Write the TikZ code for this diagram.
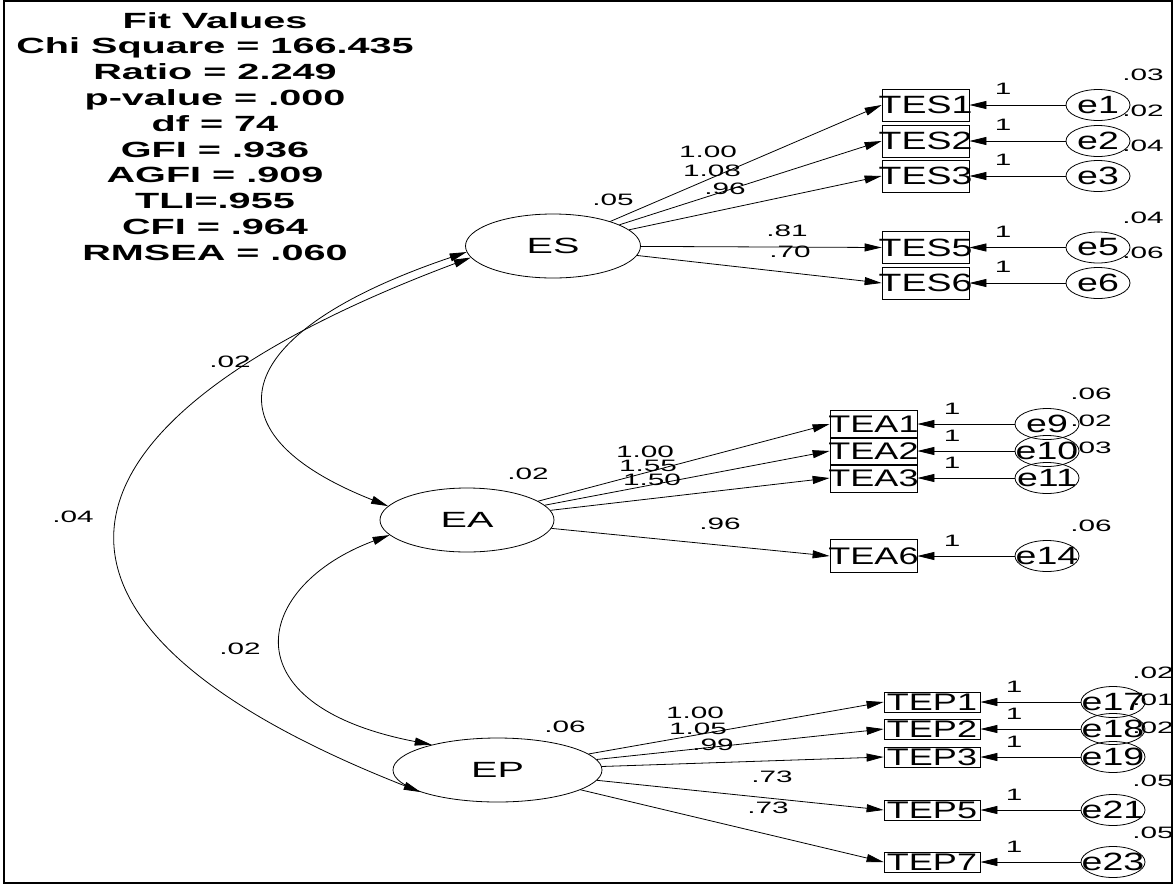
\documentclass[tikz,border=0pt]{standalone}
\usepackage{fontspec}
\newfontfamily\amos[FakeStretch=1.8]{Liberation Sans}
\newfontfamily\amosbox[FakeStretch=1.5]{Liberation Sans}
\usetikzlibrary{arrows.meta, shapes.geometric}
\newcommand{\boxtext}[1]{\makebox[0pt]{#1}}

\begin{document}
\begin{tikzpicture}[x=1pt, y=-1pt, line width=0.8pt,
  amostip/.tip={Triangle[length=17pt, width=8pt]},
  latent/.style={ellipse, draw, inner sep=0pt, minimum height=64pt, font=\amos\fontsize{22}{22}\selectfont},
  ind/.style={rectangle, draw, inner sep=0pt, font=\amosbox\fontsize{24}{24}\selectfont},
  err/.style={ellipse, draw, inner sep=0pt, minimum width=64pt, minimum height=31pt, font=\amosbox\fontsize{25}{25}\selectfont},
  num/.style={inner sep=0pt, font=\amos\fontsize{16.5}{16.5}\selectfont},
  fit/.style={anchor=base, inner sep=0pt, font=\amos\bfseries\fontsize{22}{22}\selectfont},
  load/.style={-amostip},
  cov/.style={amostip-amostip},
]
\useasboundingbox (0,0) rectangle (1176,884);
\draw[line width=2.5pt] (4,1) rectangle (1172,883);
% ---------- fit values ----------
\foreach \t [count=\i] in {Fit Values, Chi Square = 166.435, Ratio = 2.249, p-value = .000, df = 74, GFI = .936, AGFI = .909, TLI=.955, CFI = .964, RMSEA = .060}
  \node[fit] (fit\i) at (215, {28+25.8*(\i-1)}) {\t};
% ---------- latent factors ----------
\node[latent, minimum width=175pt] (ES) at (553,246) {ES};
\node[latent, minimum width=174pt] (EA) at (467,520) {EA};
\node[latent, minimum width=209pt] (EP) at (497.5,770) {EP};
\node[num] (vES) at (613,200) {.05};
\node[num] (vEA) at (528,474) {.02};
\node[num] (vEP) at (565,727) {.06};
% ---------- ES indicators ----------
\foreach \v/\y/\w in {1/105/.03, 2/141/.02, 3/176/.04, 5/247.5/.04, 6/283/.06} {
  \node[ind, minimum width=87pt, minimum height=32pt, font=\amosbox\fontsize{25}{25}\selectfont] (TES\v) at (925.5,\y) {\boxtext{TES\v}};
  \node[err] (e\v) at (1098,\y) {\boxtext{e\v}};
  \node[num] (one\v) at (1003,\y-16) {1};
  \node[num] (var\v) at (1143,\y-30) {\w};
  \draw[load] (e\v) -- (TES\v.east);
}
\foreach \v/\x/\y/\val in {1/708/152/1.00, 2/712/171/1.08, 3/725/189/.96, 5/787/231/.81, 6/790/252/.70} {
  \draw[load] (ES) -- (TES\v.west);
  \node[num] (lES\v) at (\x,\y) {\val};
}
% ---------- EA indicators ----------
\foreach \v/\e/\y/\h/\w in {1/9/424/28/.06, 2/10/451/28/.02, 3/11/478/28/.03, 6/14/556/33/.06} {
  \node[ind, minimum width=87pt, minimum height=\h pt] (TEA\v) at (873.5,\y) {\boxtext{TEA\v}};
  \node[err] (e\e) at (1047,\y) {\boxtext{e\e}};
  \node[num] (one\e) at (952,\y-15) {1};
  \node[num] (var\e) at (1091,\y-30) {\w};
  \draw[load] (e\e) -- (TEA\v.east);
}
\foreach \v/\x/\y/\val in {1/645/452/1.00, 2/648/466/1.55, 3/652/480/1.50, 6/720/524/.96} {
  \draw[load] (EA) -- (TEA\v.west);
  \node[num] (lEA\v) at (\x,\y) {\val};
}
% ---------- EP indicators ----------
\foreach \v/\e/\y/\w in {1/17/702/.02, 2/18/729/.01, 3/19/757/.02, 5/21/810/.05, 7/23/862/.05} {
  \node[ind, minimum width=96pt, minimum height=20pt] (TEP\v) at (932,\y) {\boxtext{TEP\v}};
  \node[err] (e\e) at (1113,\y) {\boxtext{e\e}};
  \node[num] (one\e) at (1014,\y-15) {1};
  \node[num] (var\e) at (1153,\y-29) {\w};
  \draw[load] (e\e) -- (TEP\v.east);
}
\foreach \v/\x/\y/\val in {1/695/713/1.00, 2/698/729/1.05, 3/713/745/.99, 5/772/777/.73, 7/768/808/.73} {
  \draw[load] (EP) -- (TEP\v.west);
  \node[num] (lEP\v) at (\x,\y) {\val};
}
% ---------- covariances ----------
\draw[cov] (ES.184) .. controls +(-231,78) and +(-192,-76) .. (EA.170);
\draw[cov] (EA.191) .. controls +(-135,50) and +(-207,-40) .. (EP.159);
\draw[cov] (ES.188) .. controls +(-435,163) and +(-437,-172) .. (EP.196);
\node[num] (cSA) at (230,362) {.02};
\node[num] (cSP) at (73,517) {.04};
\node[num] (cAP) at (240,649) {.02};
\end{tikzpicture}
\end{document}
